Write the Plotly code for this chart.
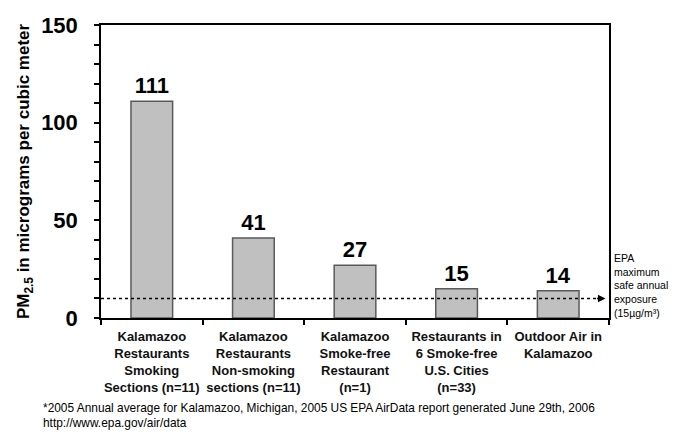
import plotly.graph_objects as go

categories = [
    "Kalamazoo<br>Restaurants<br>Smoking<br>Sections (n=11)",
    "Kalamazoo<br>Restaurants<br>Non-smoking<br>sections (n=11)",
    "Kalamazoo<br>Smoke-free<br>Restaurant<br>(n=1)",
    "Restaurants in<br>6 Smoke-free<br>U.S. Cities<br>(n=33)",
    "Outdoor Air in<br>Kalamazoo",
]
values = [111, 41, 27, 15, 14]
epa_line_value = 10
y_ticks = [0, 50, 100, 150]

FONT = "Liberation Sans"

fig = go.Figure()
fig.add_trace(go.Bar(
    x=categories, y=values,
    marker=dict(color="#c0c0c0", line=dict(color="#5a5a5a", width=1.5)),
    text=["<b>%d</b>" % v for v in values],
    textposition="outside",
    textfont=dict(family=FONT, size=22, color="black"),
    cliponaxis=False,
    width=0.41,
))

# dotted EPA line with arrow
fig.add_shape(type="line", xref="paper", yref="y", x0=0, x1=0.985,
              y0=epa_line_value, y1=epa_line_value,
              line=dict(color="black", width=1.5, dash="dot"))
fig.add_annotation(xref="paper", yref="y", x=0.993, y=epa_line_value,
                   axref="pixel", ayref="pixel", ax=-10, ay=0,
                   showarrow=True, arrowhead=2, arrowsize=1, arrowwidth=1.5,
                   arrowcolor="black", text="")

fig.add_annotation(xref="paper", yref="paper", x=1.006, y=0.232,
                   xanchor="left", yanchor="top", align="left", showarrow=False,
                   text="EPA<br>maximum<br>safe annual<br>exposure<br>(15µg/m³)",
                   font=dict(family=FONT, size=10.5, color="black"))

fig.add_annotation(xref="paper", yref="paper", x=-0.118, y=-0.278,
                   xanchor="left", yanchor="top", align="left", showarrow=False,
                   text="*2005 Annual average for Kalamazoo, Michigan, 2005 US EPA AirData report generated June 29th, 2006<br>http://www.epa.gov/air/data",
                   font=dict(family=FONT, size=11.9, color="black"))

fig.update_layout(
    width=681, height=432,
    margin=dict(l=101, r=72, t=25, b=114),
    paper_bgcolor="white", plot_bgcolor="white",
    showlegend=False,
    bargap=0.59,
    font=dict(family=FONT, color="black"),
)
fig.update_xaxes(
    automargin=False,
    showline=True, linecolor="black", linewidth=1.5, mirror=True,
    ticks="outside", tickson="boundaries", ticklen=5, tickcolor="black", tickwidth=1.5,
    tickangle=0,
    tickfont=dict(family=FONT, size=13, color="#111"),
    tickvals=categories,
    ticktext=["<b>%s</b>" % c for c in categories],
    ticklabelstandoff=6,
    showgrid=False,
)
fig.update_yaxes(
    automargin=False,
    range=[0, 150], tickvals=y_ticks,
    ticktext=["<b>%d</b>" % t for t in y_ticks],
    showline=True, linecolor="black", linewidth=1.5, mirror=True,
    ticks="outside", ticklen=5, tickcolor="black", tickwidth=1.5,
    minor=dict(dtick=10, ticks="outside", ticklen=5, tickcolor="black", tickwidth=1.5),
    tickfont=dict(family=FONT, size=22, color="black"),
    ticklabelstandoff=12,
    showgrid=False, zeroline=False,
    title=dict(text="<b>PM<sub>2.5</sub> in micrograms per cubic meter</b>",
               font=dict(family=FONT, size=17, color="black"),
               standoff=7),
)

fig.write_html("out.html", config={"displayModeBar": False},
               post_script="document.body.style.margin='0';")
